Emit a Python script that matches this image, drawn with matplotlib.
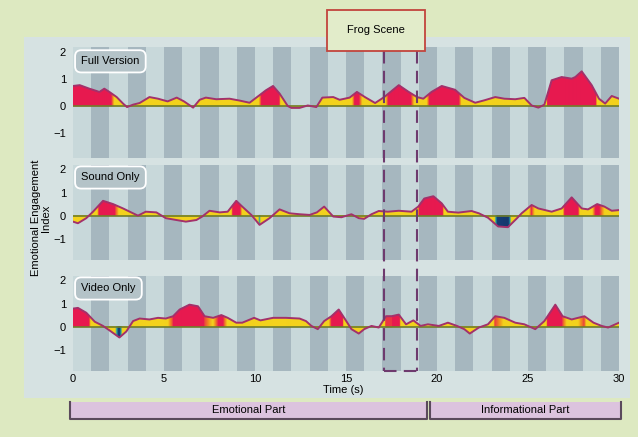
import numpy as np
import matplotlib
matplotlib.use("Agg")
import matplotlib.pyplot as plt
from matplotlib.collections import PolyCollection
from matplotlib.colors import LinearSegmentedColormap, Normalize
from matplotlib.patches import Rectangle
from matplotlib.lines import Line2D
from matplotlib.transforms import blended_transform_factory

plt.rcParams['font.family'] = ['Liberation Sans', 'DejaVu Sans']

# data
titles = ["Full Version", "Sound Only", "Video Only"]

t_full = [0, 0.37, 0.9, 1.45, 1.72, 2.0, 2.4, 2.75, 2.97, 3.3, 3.66, 4.2, 4.67, 5.2, 5.7, 6.1, 6.6,
          6.96, 7.3, 7.87, 8.6, 9.16, 9.7, 10.25, 10.6, 10.99, 11.35, 11.8, 12.0, 12.45, 12.9, 13.37,
          13.7, 14.3, 14.65, 15.2, 15.6, 16.04, 16.6, 17.1, 17.9, 18.4, 18.9, 19.25, 19.7, 20.26,
          20.99, 21.5, 22.1, 22.6, 23.2, 23.7, 24.3, 24.8, 25.2, 25.57, 25.9, 26.3, 26.85, 27.4,
          27.6, 27.95, 28.5, 28.9, 29.24, 29.6, 30]
v_full = [0.74, 0.77, 0.64, 0.52, 0.64, 0.52, 0.33, 0.09, -0.04, 0.05, 0.11, 0.33, 0.27, 0.17,
          0.31, 0.17, -0.06, 0.23, 0.31, 0.25, 0.27, 0.2, 0.12, 0.4, 0.58, 0.74, 0.46, 0.0, -0.07,
          -0.07, 0.02, -0.04, 0.31, 0.33, 0.23, 0.31, 0.52, 0.33, 0.11, 0.33, 0.77, 0.54, 0.33,
          0.27, 0.52, 0.74, 0.6, 0.3, 0.12, 0.21, 0.33, 0.27, 0.25, 0.3, 0.02, -0.06, 0.05, 0.95,
          1.07, 1.01, 1.07, 1.28, 0.77, 0.27, 0.09, 0.37, 0.27]

t_sound = [0, 0.27, 0.73, 1.1, 1.65, 2.2, 2.75, 3.3, 3.57, 4.0, 4.58, 5.1, 5.68, 6.2, 6.78, 7.1,
           7.5, 8.06, 8.5, 8.97, 9.3, 9.8, 10.25, 10.8, 11.35, 11.9, 12.45, 13.0, 13.4, 13.8,
           14.3, 14.75, 15.3, 15.7, 16.0, 16.4, 16.8, 17.3, 17.9, 18.6, 18.97, 19.3, 19.8, 20.26,
           20.6, 21.17, 21.9, 22.3, 22.8, 23.36, 23.9, 24.4, 24.65, 25.2, 25.57, 26.3, 26.85,
           27.4, 27.95, 28.3, 28.8, 29.2, 29.6, 30]
v_sound = [-0.26, -0.33, -0.11, 0.17, 0.64, 0.5, 0.31, 0.1, 0.0, 0.17, 0.14, -0.11, -0.19, -0.26,
           -0.19, -0.04, 0.21, 0.14, 0.17, 0.64, 0.39, 0.03, -0.4, -0.11, 0.27, 0.1, 0.06, 0.03,
           0.14, 0.39, -0.04, -0.07, 0.06, -0.11, -0.14, 0.06, 0.2, 0.17, 0.21, 0.17, 0.39, 0.74,
           0.84, 0.53, 0.17, 0.13, 0.2, 0.1, -0.09, -0.47, -0.5, -0.11, 0.1, 0.46, 0.31, 0.17,
           0.31, 0.79, 0.31, 0.27, 0.5, 0.39, 0.21, 0.24]

t_video = [0, 0.27, 0.73, 1.2, 1.65, 2.0, 2.55, 2.93, 3.3, 3.66, 4.2, 4.67, 5.1, 5.5, 5.86, 6.4,
           6.87, 7.23, 7.7, 8.15, 8.5, 8.97, 9.3, 9.95, 10.3, 10.99, 11.7, 12.45, 12.8, 13.1,
           13.45, 13.8, 14.2, 14.6, 14.9, 15.3, 15.7, 16.0, 16.4, 16.8, 17.2, 17.5, 17.9, 18.3,
           18.7, 19.1, 19.5, 20.1, 20.6, 21.1, 21.5, 21.8, 22.3, 22.8, 23.2, 23.7, 24.3, 24.8,
           25.4, 25.9, 26.5, 26.9, 27.4, 28.1, 28.6, 29.05, 29.4, 30]
v_video = [0.78, 0.81, 0.6, 0.21, 0.03, -0.16, -0.47, -0.21, 0.24, 0.35, 0.31, 0.38, 0.35, 0.45,
           0.74, 0.95, 0.88, 0.45, 0.38, 0.5, 0.38, 0.17, 0.17, 0.38, 0.27, 0.38, 0.38, 0.35, 0.24,
           0.03, -0.11, 0.24, 0.45, 0.74, 0.38, -0.11, -0.3, -0.11, 0.03, -0.04, 0.45, 0.45, 0.52,
           0.1, 0.27, 0.03, 0.1, 0.03, 0.17, 0.03, -0.11, -0.3, -0.04, 0.1, 0.45, 0.38, 0.17, 0.1,
           -0.11, 0.24, 0.95, 0.45, 0.31, 0.45, 0.17, 0.03, -0.04, 0.17]

frog_scene = [17.1, 18.9]
parts = ["Emotional Part", "Informational Part"]
part_bounds = [(-0.15, 19.45), (19.6, 30.1)]

series = [(t_full, v_full), (t_sound, v_sound), (t_video, v_video)]

# colour by value
lo, hi = -0.6, 0.8
anchors = [(-0.6, "#0d2a5c"), (-0.45, "#173f78"), (-0.40, "#1ea4a8"), (-0.35, "#f4d21c"),
           (0.385, "#f4d21c"), (0.42, "#f28a1f"), (0.465, "#e8194f"), (0.8, "#e8194f")]
cmap = LinearSegmentedColormap.from_list(
    "eng", [((a - lo) / (hi - lo), c) for a, c in anchors])
norm = Normalize(lo, hi)

fig = plt.figure(figsize=(6.38, 4.37), dpi=100)
fig.patch.set_facecolor("#dde9c1")
W, H = 638.0, 437.0

fig.add_artist(Rectangle((24 / W, 1 - 398 / H), 606 / W, 361 / H, transform=fig.transFigure,
                         facecolor="#d6e2e2", edgecolor="none", zorder=-5))

boxes = [(46.7, 158.0), (165.0, 260.0), (276.0, 371.0)]
axes = []
for i, ((top, bot), (t, v)) in enumerate(zip(boxes, series)):
    ax = fig.add_axes([73 / W, 1 - bot / H, 546 / W, (bot - top) / H])
    axes.append(ax)
    ax.set_xlim(0, 30)
    ax.set_ylim(-1.92, 2.19)
    for s in range(30):
        ax.axvspan(s, s + 1, color="#a6b7bf" if s % 2 else "#c8d8da", lw=0, zorder=0)

    tt = np.linspace(0, 30, 1501)
    vv = np.interp(tt, t, v)
    polys = [[(tt[k], 0), (tt[k], vv[k]), (tt[k + 1], vv[k + 1]), (tt[k + 1], 0)]
             for k in range(len(tt) - 1)]
    cols = cmap(norm((vv[:-1] + vv[1:]) / 2))
    ax.add_collection(PolyCollection(polys, facecolors=cols, edgecolors=cols, linewidths=0.3,
                                     zorder=1))
    ax.axhline(0, color="#6f7d2a", lw=1.2, zorder=2)
    ax.plot(t, v, color="#a3316b", lw=1.4, zorder=3)

    for sp in ax.spines.values():
        sp.set_visible(False)
    ax.tick_params(length=0, labelsize=8, pad=5)
    ax.set_yticks([-1, 0, 1, 2])
    ax.set_yticklabels(["\u22121", "0", "1", "2"])
    ax.set_xticks([0, 5, 10, 15, 20, 25, 30])
    if i < 2:
        ax.set_xticklabels([])
    else:
        ax.tick_params(axis="x", pad=2)

    ax.text(0.45, 1.65, titles[i], fontsize=8, ha="left", va="center", zorder=5,
            bbox=dict(boxstyle="round,pad=0.55", facecolor="#b4c3c8", edgecolor="white", lw=1.3))

fig.text(343 / W, 1 - 390 / H, "Time (s)", fontsize=8, ha="center", va="center")
fig.text(41 / W, 1 - 218 / H, "Emotional Engagement\nIndex", fontsize=8, rotation=90,
         ha="center", va="center", linespacing=1.0)

# frog scene marker
tr = blended_transform_factory(axes[2].transData, fig.transFigure)
y_top, y_bot = 1 - 51 / H, 1 - 370.5 / H
dash = dict(color="#6e3a6e", lw=1.5, dashes=(6, 3.5), transform=tr, clip_on=False, zorder=10)
fig.add_artist(Line2D([frog_scene[0], frog_scene[0]], [y_top, y_bot], **dash))
fig.add_artist(Line2D([frog_scene[1], frog_scene[1]], [y_top, y_bot], **dash))
fig.add_artist(Line2D(frog_scene, [y_bot, y_bot], **dash))
fig.add_artist(Rectangle((327 / W, 1 - 51 / H), 98 / W, 41 / H, transform=fig.transFigure,
                         facecolor="#e2ecca", edgecolor="#c2443d", lw=1.3, zorder=11))
fig.text(376 / W, 1 - 30 / H, "Frog Scene", fontsize=8, ha="center", va="center", zorder=12)

# parts bar
pb, pt = 1 - 419 / H, 1 - 401.5 / H
for name, (a, b) in zip(parts, part_bounds):
    fig.add_artist(Rectangle((a, pb), b - a, pt - pb, transform=tr, facecolor="#dcc3de",
                             edgecolor="none", clip_on=False))
    fig.add_artist(Line2D([a, a, b, b], [pt, pb, pb, pt], color="#5b4a5c", lw=1.5,
                          transform=tr, clip_on=False))
    fig.text((a + b) / 2, (pb + pt) / 2, name, fontsize=8, ha="center", va="center",
             transform=tr)

fig.savefig("out.png", dpi=100, facecolor=fig.get_facecolor())
